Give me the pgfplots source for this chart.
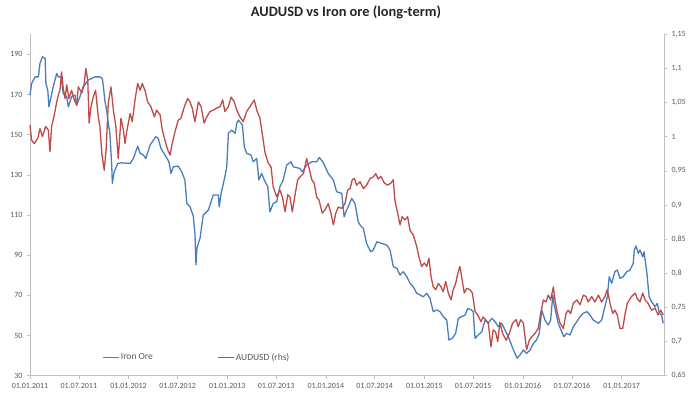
\documentclass[border=0pt]{standalone}
\usepackage{fontspec}
\setmainfont{Carlito}
\usepackage{pgfplots}
\usepackage{pgfplotstable}
\pgfplotsset{compat=1.18}
\definecolor{ironblue}{HTML}{4A7EBB}
\definecolor{audred}{HTML}{BE4B48}
\definecolor{axisgrey}{HTML}{BFBFBF}
\definecolor{labelgrey}{HTML}{595959}

\pgfplotstableread{
d v
0 169.7
6 175.5
19 178.8
31 178.8
37 185.5
46 188.8
56 188
59 175.5
66 172
70 163.9
86 173.8
99 180.5
105 178.8
115 178.8
123 170.6
136 168.9
142 163.9
154 168.9
167 169.7
173 164.8
185 168.9
197 173.8
216 177.2
241 178.8
259 178.8
268 178
272 173.8
278 166.4
284 162.3
290 155.6
296 150.7
303 134
305 125.8
312 131.5
325 135.7
340 136
371 135.7
383 138.2
399 144.3
408 140.7
420 139.9
429 138.2
445 144.8
466 149
475 148.2
485 143.2
500 139.9
515 136.5
522 130.7
531 134
549 134.4
562 131.5
574 127.4
581 115.8
593 114.1
605 109.5
611 101
615 85.1
618 93
624 96
630 98.4
636 104.2
642 110
661 112.5
673 117.5
679 120
698 120
701 114
708 120.8
722 129
729 134
735 150.7
747 152.3
760 150.7
766 155.6
772 157.3
787 154.8
794 144
803 140.7
819 139.9
827 136.5
840 138.2
848 127.4
858 130.7
871 126.6
881 124.1
889 111.6
901 115.8
914 116.6
926 124.1
938 127.4
951 134.9
967 136.5
976 134
1000 133.2
1009 131.5
1025 134.9
1044 136.5
1062 136.5
1072 138.7
1087 136
1105 130.7
1124 127.4
1136 121.6
1155 120.8
1164 109.1
1173 112.5
1179 114.1
1192 118.3
1204 115.8
1216 106.7
1223 105
1235 103.4
1247 95.9
1253 94.2
1263 91.7
1272 92.6
1285 96.7
1303 95.9
1322 95
1334 92.6
1346 84.3
1359 83.5
1371 80.1
1383 81.8
1396 79.3
1408 76
1420 74.3
1433 71
1445 70.2
1457 69.3
1470 71
1482 68.5
1494 61.9
1507 62.7
1519 61.9
1531 59.4
1544 57.7
1552 47.8
1565 48.6
1577 51.1
1587 58.6
1599 59.4
1612 60.2
1622 63.5
1636 62.7
1642 61.9
1649 48.6
1661 50.3
1674 51.9
1686 57.7
1698 56.1
1711 58.6
1723 56.9
1735 54.4
1748 56.1
1760 52.7
1772 49.4
1785 45
1791 42.8
1797 41.1
1805 38.7
1815 40.3
1828 42.8
1840 41.1
1853 42.8
1865 46.1
1877 47.8
1887 51.1
1896 62.7
1908 57.7
1920 55.2
1929 57.7
1937 70.2
1941 66
1949 61.1
1957 56.1
1970 51.9
1978 49.4
1988 51.1
2001 50.3
2013 54.4
2026 56.9
2038 59.4
2050 61.1
2063 61.9
2075 60.2
2087 57.7
2106 56.1
2118 57.7
2130 64.3
2139 69.3
2146 79.3
2155 76
2167 81.8
2176 82.6
2186 78.5
2198 79.3
2211 81.8
2223 82.6
2235 85.9
2239 92.6
2245 94.6
2254 90.9
2260 92.6
2270 89.2
2275 91.7
2285 81.8
2294 69.3
2303 66.8
2316 64.3
2324 66
2332 61.1
2340 60.2
2346 56.1
}\irondata

\pgfplotstableread{
d v
0 1.017
6 0.995
16 0.990
29 0.998
37 1.012
46 1.000
58 1.015
68 1.010
74 0.978
80 1.015
90 1.032
99 1.051
105 1.061
111 1.068
117 1.095
123 1.071
130 1.056
136 1.076
144 1.056
154 1.068
164 1.054
173 1.046
179 1.073
192 1.064
201 1.078
207 1.100
214 1.083
219 1.020
226 1.044
235 1.059
243 1.068
253 1.029
259 1.015
266 0.976
275 0.951
282 0.981
290 1.049
300 1.073
309 1.039
318 1.015
327 0.968
337 1.027
346 1.010
352 0.990
358 1.007
371 1.034
379 1.022
389 1.054
399 1.078
408 1.068
416 1.078
426 1.068
436 1.051
448 1.044
461 1.029
469 1.039
482 1.032
490 1.010
500 0.995
510 0.981
519 0.973
527 0.990
537 1.007
549 1.024
559 1.027
572 1.044
584 1.056
593 1.051
601 1.042
611 1.022
624 1.051
634 1.044
645 1.020
655 1.029
667 1.037
679 1.039
692 1.042
704 1.044
714 1.054
722 1.037
735 1.044
745 1.058
757 1.051
766 1.039
778 1.029
790 1.022
803 1.037
815 1.044
831 1.054
840 1.039
852 1.027
864 0.995
871 0.976
883 0.961
893 0.956
901 0.927
914 0.912
926 0.922
935 0.912
945 0.890
955 0.915
963 0.912
972 0.890
982 0.915
992 0.937
1000 0.941
1013 0.946
1025 0.968
1034 0.954
1044 0.937
1053 0.932
1062 0.912
1071 0.907
1083 0.888
1093 0.893
1105 0.902
1115 0.888
1124 0.871
1133 0.888
1142 0.897
1155 0.895
1167 0.902
1177 0.922
1186 0.924
1194 0.937
1202 0.939
1210 0.929
1223 0.934
1235 0.924
1247 0.929
1260 0.939
1272 0.941
1281 0.946
1290 0.938
1300 0.942
1313 0.932
1325 0.929
1337 0.932
1346 0.937
1352 0.907
1362 0.888
1371 0.871
1379 0.883
1389 0.878
1399 0.883
1408 0.863
1420 0.856
1433 0.839
1441 0.824
1451 0.810
1461 0.815
1470 0.810
1478 0.822
1486 0.795
1494 0.780
1503 0.776
1513 0.785
1523 0.780
1531 0.773
1540 0.788
1550 0.771
1560 0.761
1568 0.776
1577 0.785
1585 0.800
1593 0.810
1602 0.788
1609 0.771
1618 0.778
1630 0.776
1639 0.771
1649 0.744
1659 0.739
1671 0.729
1679 0.736
1688 0.732
1698 0.727
1708 0.692
1716 0.717
1725 0.714
1733 0.700
1741 0.728
1751 0.712
1764 0.702
1776 0.712
1788 0.727
1801 0.732
1809 0.722
1818 0.732
1828 0.727
1834 0.707
1840 0.688
1850 0.702
1859 0.707
1871 0.712
1883 0.719
1892 0.741
1902 0.761
1912 0.758
1920 0.768
1929 0.761
1939 0.780
1945 0.761
1954 0.741
1964 0.727
1976 0.719
1986 0.741
1994 0.746
2003 0.741
2013 0.756
2026 0.761
2038 0.754
2050 0.768
2060 0.766
2068 0.758
2081 0.766
2093 0.758
2106 0.768
2118 0.758
2130 0.766
2139 0.776
2149 0.756
2159 0.741
2167 0.746
2176 0.739
2186 0.719
2196 0.719
2205 0.741
2213 0.756
2229 0.766
2242 0.771
2250 0.763
2260 0.758
2270 0.771
2279 0.761
2290 0.756
2303 0.746
2316 0.749
2327 0.739
2337 0.746
2346 0.739
}\auddata

\begin{document}
\begin{tikzpicture}
\path[use as bounding box] (0,0) rectangle (689pt,395pt);
\pgfplotsset{
  common/.style={
    at={(30pt,19.3pt)}, anchor=south west,
    width=634pt, height=341.4pt, scale only axis,
    xmin=0, xmax=2349,
    tick align=outside, major tick length=3pt,
    axis line style={-, draw=axisgrey, line width=0.8pt},
    tick style={draw=axisgrey, line width=0.6pt},
    ticklabel style={font=\fontsize{8}{9}\selectfont, text=labelgrey},
    /pgf/number format/assume math mode=true,
    clip=false,
  }
}
\begin{axis}[common,
  ymin=30, ymax=200,
  axis y line*=left, axis x line*=bottom,
  xtick={0,181,365,547,731,912,1096,1277,1461,1642,1826,2008,2192},
  xticklabels={01.01.2011,01.07.2011,01.01.2012,01.07.2012,01.01.2013,01.07.2013,01.01.2014,01.07.2014,01.01.2015,01.07.2015,01.01.2016,01.07.2016,01.01.2017},
  ytick={30,50,70,90,110,130,150,170,190},
  yticklabel style={xshift=-1pt},
  xticklabel style={yshift=-1pt},
]
\addplot[ironblue, line width=1.3pt, line join=round] table[x=d,y=v] {\irondata};
\end{axis}
\begin{axis}[common,
  ymin=0.65, ymax=1.15,
  axis y line*=right, axis x line=none,
  ytick={0.65,0.7,0.75,0.8,0.85,0.9,0.95,1,1.05,1.1,1.15},
  yticklabels={{0,65},{0,7},{0,75},{0,8},{0,85},{0,9},{0,95},{1},{1,05},{1,1},{1,15}},
  yticklabel style={xshift=1pt},
  legend columns=2,
  legend style={at={(0.110,0.053)}, anchor=west, draw=none, fill=none,
    font=\fontsize{9.5}{11}\selectfont, text=labelgrey,
    nodes={inner xsep=1pt},
    /tikz/every even column/.append style={column sep=64pt}},
  legend image code/.code={\draw[#1, line width=1pt] (0pt,0pt) -- (16pt,0pt);},
]
\addlegendimage{ironblue}
\addlegendentry{Iron Ore}
\addplot[audred, line width=1.3pt, line join=round] table[x=d,y=v] {\auddata};
\addlegendentry{AUDUSD (rhs)}
\end{axis}
\node[font=\bfseries\fontsize{14.4}{16}\selectfont, text=black!85] at (346pt,383pt) {AUDUSD vs Iron ore (long-term)};
\end{tikzpicture}
\end{document}
